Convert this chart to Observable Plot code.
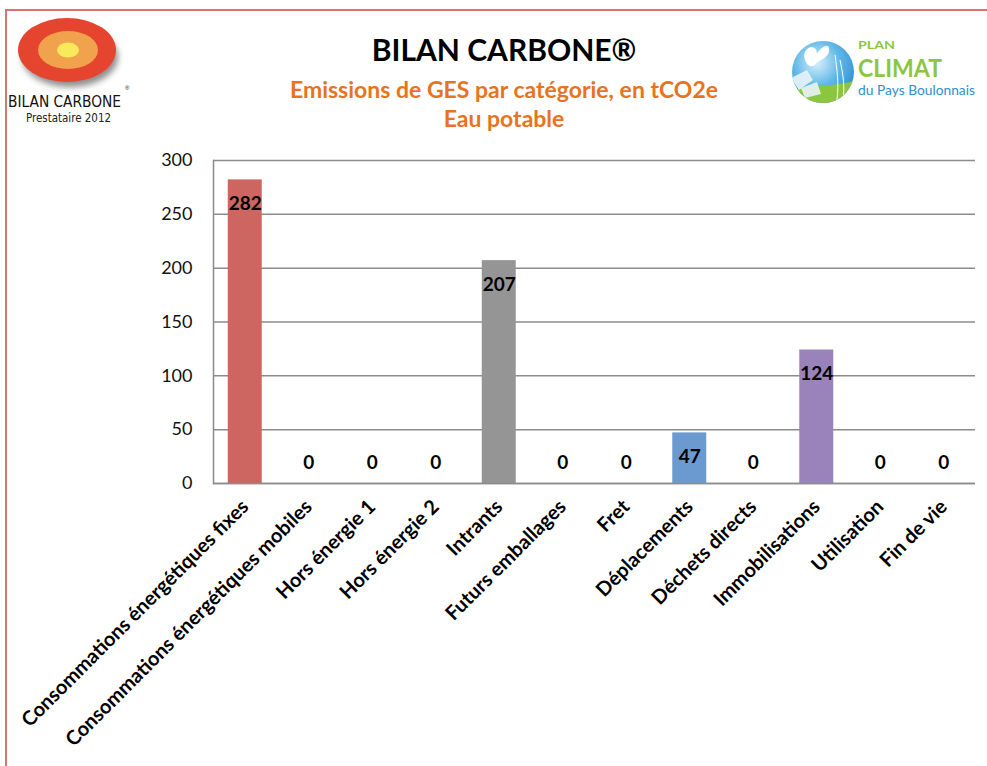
<!DOCTYPE html>
<html>
<head>
<meta charset="utf-8">
<script src="https://cdn.jsdelivr.net/npm/d3@7"></script>
<script src="https://cdn.jsdelivr.net/npm/@observablehq/plot@0.6"></script>
<style>
  html, body { margin: 0; padding: 0; background: #fff; }
  #page { position: relative; width: 987px; height: 766px; overflow: hidden; font-family: Lato, "Open Sans", sans-serif; }
  #border { position: absolute; left: 5px; top: 9px; width: 990px; height: 800px; border-left: 2px solid #D8746C; border-top: 2px solid #D8746C; }
  .t { position: absolute; left: 0; width: 1008px; text-align: center; font-weight: bold; white-space: nowrap; }
  #title { top: 31px; font-size: 30px; color: #000; }
  #sub1 { top: 75px; font-size: 23px; color: #E8731F; }
  #sub2 { top: 104px; font-size: 23px; color: #E8731F; }
  #chart { position: absolute; left: 0; top: 140px; }
  #logoL, #logoR { position: absolute; top: 0; }
</style>
</head>
<body>
<div id="page">
  <div id="border"></div>
  <svg id="logoL" width="140" height="135" style="left:0">
    <defs>
      <filter id="blur" x="-30%" y="-30%" width="160%" height="160%"><feGaussianBlur stdDeviation="3"/></filter>
    </defs>
    <ellipse cx="70" cy="57" rx="48" ry="30" fill="#333" opacity="0.55" filter="url(#blur)"/>
    <ellipse cx="67" cy="50" rx="49" ry="32" fill="#E5452F"/>
    <ellipse cx="68" cy="50" rx="30" ry="19" fill="#F0A24C"/>
    <ellipse cx="68" cy="50" rx="11" ry="7.5" fill="#FBE95C"/>
    <text x="8" y="107" textLength="113" lengthAdjust="spacingAndGlyphs" font-family="'Liberation Sans Narrow','DejaVu Sans Condensed',sans-serif" font-size="15" fill="#111">BILAN CARBONE</text>
    <text x="125" y="90" font-family="sans-serif" font-size="6" fill="#111">®</text>
    <text x="26" y="122" textLength="85" lengthAdjust="spacingAndGlyphs" font-family="'Liberation Sans Narrow','DejaVu Sans Condensed',sans-serif" font-size="13" fill="#222">Prestataire 2012</text>
  </svg>
  <svg id="logoR" width="200" height="120" style="left:787px">
    <defs>
      <radialGradient id="sky" cx="40%" cy="35%" r="70%">
        <stop offset="0%" stop-color="#D8F0FB"/>
        <stop offset="55%" stop-color="#5DB6E6"/>
        <stop offset="100%" stop-color="#2E8ED0"/>
      </radialGradient>
      <clipPath id="circ"><circle cx="36" cy="72" r="31"/></clipPath>
    </defs>
    <circle cx="36" cy="72" r="31" fill="url(#sky)"/>
    <g clip-path="url(#circ)">
      <path d="M0,92 C20,84 45,88 70,80 L70,110 L0,110 Z" fill="#8CC63F"/>
      <path d="M4,78 L20,70 L26,80 L12,90 Z" fill="#E9F3F8" opacity="0.9"/>
      <path d="M14,88 L30,82 L34,94 L18,98 Z" fill="#E9F3F8" opacity="0.9"/>
      <path d="M48,55 C50,70 52,82 50,100" stroke="#fff" stroke-width="1" fill="none"/>
      <path d="M53,60 C56,74 58,86 56,100" stroke="#fff" stroke-width="1" fill="none"/>
    </g>
    <path d="M18,52 C22,44 30,46 30,54 C34,46 44,42 42,52 C40,58 34,60 30,62 C28,66 24,68 20,64 C18,60 16,56 18,52 Z" fill="#fff"/>
    <text x="71" y="49" textLength="37" lengthAdjust="spacingAndGlyphs" font-family="Lato, sans-serif" font-weight="bold" font-size="12" fill="#8CC63F">PLAN</text>
    <text x="71" y="77" textLength="84" lengthAdjust="spacingAndGlyphs" font-family="Lato, sans-serif" font-weight="bold" font-size="24" fill="#8CC63F">CLIMAT</text>
    <text x="71" y="95" textLength="117" lengthAdjust="spacingAndGlyphs" font-family="Lato, sans-serif" font-size="13" fill="#2E8ED0">du Pays Boulonnais</text>
  </svg>
  <div class="t" id="title">BILAN CARBONE®</div>
  <div class="t" id="sub1">Emissions de GES par catégorie, en tCO2e</div>
  <div class="t" id="sub2">Eau potable</div>
  <div id="chart"></div>
</div>
<script>
const categories = [
  "Consommations énergétiques fixes",
  "Consommations énergétiques mobiles",
  "Hors énergie 1",
  "Hors énergie 2",
  "Intrants",
  "Futurs emballages",
  "Fret",
  "Déplacements",
  "Déchets directs",
  "Immobilisations",
  "Utilisation",
  "Fin de vie"
];
const values = [282, 0, 0, 0, 207, 0, 0, 47, 0, 124, 0, 0];
const yTicks = [0, 50, 100, 150, 200, 250, 300];
const barColors = ["#CD6660", "#CD6660", "#CD6660", "#CD6660", "#959595", "#959595", "#959595", "#6A9ACF", "#6A9ACF", "#9A82BA", "#9A82BA", "#9A82BA"];

const data = categories.map((c, i) => ({category: c, value: values[i]}));

const chart = Plot.plot({
  width: 987,
  height: 626,
  marginTop: 20,
  marginLeft: 213,
  marginRight: 12,
  marginBottom: 283,
  style: {fontFamily: "Lato, 'Open Sans', sans-serif", color: "#000", background: "transparent"},
  x: {domain: categories, paddingInner: 0.465, paddingOuter: 0.2325, round: false, label: null},
  y: {domain: [0, 300], label: null},
  color: {domain: categories, range: barColors},
  marks: [
    Plot.gridY(yTicks, {stroke: "#8C8C8C", strokeOpacity: 1, strokeWidth: 1.5}),
    Plot.frame({anchor: "left", stroke: "#8C8C8C", strokeWidth: 1.5}),
    Plot.barY(data, {x: "category", y: "value", fill: "category"}),
    Plot.ruleY([0], {stroke: "#8C8C8C", strokeWidth: 1.5}),
    Plot.text(data.filter(d => d.value > 0), {x: "category", y: "value", text: d => String(d.value), dy: 24, fontSize: 19, fontWeight: "bold", fill: "#000"}),
    Plot.text(data.filter(d => d.value === 0), {x: "category", y: "value", text: d => String(d.value), dy: -21, fontSize: 19, fontWeight: "bold", fill: "#000"}),
    Plot.axisY({ticks: yTicks, tickSize: 0, tickPadding: 21, fontSize: 18, fill: "#111", label: null}),
    Plot.axisX({tickSize: 0, tickRotate: -45, tickPadding: 20, fontSize: 20, fontWeight: "bold", fill: "#000", label: null})
  ]
});
document.getElementById("chart").appendChild(chart);
</script>
</body>
</html>
